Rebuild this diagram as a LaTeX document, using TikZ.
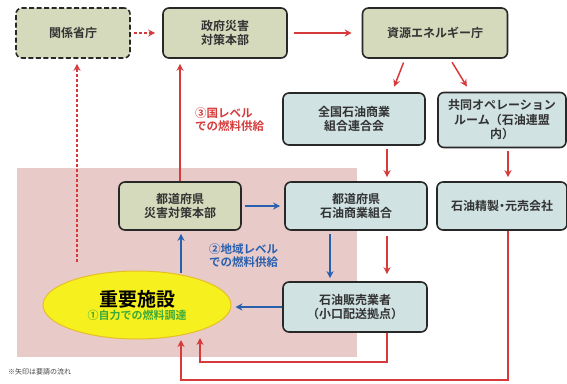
\documentclass[tikz,border=0pt]{standalone}
\usepackage{fontspec}
\setmainfont{Noto Sans CJK JP}[BoldFont={* Bold}]
\usetikzlibrary{arrows.meta,shapes.geometric}
\definecolor{olivefill}{RGB}{214,218,188}
\definecolor{bluefill}{RGB}{208,226,226}
\definecolor{boxline}{RGB}{40,40,40}
\definecolor{pinkbg}{RGB}{232,202,200}
\definecolor{arrred}{RGB}{214,58,58}
\definecolor{arrblue}{RGB}{40,95,175}
\definecolor{txtgreen}{RGB}{60,170,60}
\definecolor{ellfill}{RGB}{246,240,30}
\definecolor{elldraw}{RGB}{230,190,40}
\begin{document}
\begin{tikzpicture}[x=1pt,y=-1pt,
  box/.style={draw=boxline, line width=1.6pt, rounded corners=6pt, align=center,
    font=\bfseries\fontsize{12}{14.5}\selectfont, inner sep=2pt, text=black!80},
  olivebox/.style={box, fill=olivefill},
  bluebox/.style={box, fill=bluefill},
  redarr/.style={draw=arrred, line width=1.5pt, -{Stealth[length=7pt,width=7pt]}},
  bluearr/.style={draw=arrblue, line width=1.4pt, -{Stealth[length=7pt,width=7pt]}},
  lbl/.style={font=\bfseries\fontsize{11.5}{13}\selectfont, align=left, inner sep=0pt}]
\useasboundingbox (0,0) rectangle (567,383);
\fill[pinkbg] (17,168) rectangle (357,357);
% nodes
\node[olivebox, dash pattern=on 5pt off 2.5pt, minimum width=114pt, minimum height=50pt] (kankei) at (73,33) {関係省庁};
\node[olivebox, minimum width=124pt, minimum height=50pt] (seifu) at (225,33) {政府災害\\対策本部};
\node[olivebox, minimum width=145pt, minimum height=50pt] (shigen) at (435,33) {資源エネルギー庁};
\node[bluebox, minimum width=142pt, minimum height=52pt] (zenkoku) at (354,119) {全国石油商業\\組合連合会};
\node[bluebox, minimum width=128pt, minimum height=55pt] (kyodo) at (502,120) {共同オペレーション\\ルーム（石油連盟\\内）};
\node[bluebox, minimum width=142pt, minimum height=48pt] (todo) at (356,206) {都道府県\\石油商業組合};
\node[bluebox, minimum width=130pt, minimum height=48pt] (seisei) at (502,206) {石油精製\kern-3pt・\kern-3pt元売会社};
\node[olivebox, minimum width=122pt, minimum height=48pt] (saigai) at (180,206) {都道府県\\災害対策本部};
\node[bluebox, minimum width=144pt, minimum height=50pt] (hanbai) at (355,307) {石油販売業者\\（小口配送拠点）};
\node[ellipse, fill=ellfill, draw=elldraw, line width=1pt, minimum width=188pt, minimum height=68pt, align=center, inner sep=0pt] (juyo) at (137,305)
  {{\bfseries\fontsize{19}{22}\selectfont 重要施設}\\[1pt]{\color{txtgreen}\bfseries\fontsize{11}{13}\selectfont ①自力での燃料調達}};
% labels
\node[lbl, text=arrred, anchor=west] (lab3) at (195,120) {③国レベル\\での燃料供給};
\node[lbl, text=arrblue, anchor=west] (lab2) at (209,256) {②地域レベル\\での燃料供給};
\node[anchor=west, inner sep=0pt, font=\fontsize{7}{8}\selectfont, text=black!75] (note) at (8,372) {※矢印は要請の流れ};
% reference x positions
\coordinate (xa) at (387,0);
\coordinate (xb) at (508,0);
\coordinate (xc) at (330,0);
\coordinate (xe) at (200,0);
\coordinate (xf) at (181,0);
\coordinate (dstart) at (77,262);
\coordinate (bstart) at (181,273);
\coordinate (l1) at (387,362);
\coordinate (l2) at (508,380);
% arrows
\draw[redarr, dash pattern=on 3pt off 2pt, shorten <=3pt, shorten >=7pt] (kankei.east) -- (seifu.west);
\draw[redarr, shorten <=6pt, shorten >=10pt] (seifu.east) -- (shigen.west);
\draw[redarr, shorten <=4pt, shorten >=6pt] ([xshift=-30pt]shigen.south) -- ([xshift=38pt]zenkoku.north);
\draw[redarr, shorten <=4pt, shorten >=6pt] ([xshift=15pt]shigen.south) -- ([xshift=-32pt]kyodo.north);
\draw[redarr, shorten <=3pt, shorten >=4pt] (zenkoku.south -| xa) -- (todo.north -| xa);
\draw[redarr, shorten <=3pt, shorten >=4pt] (kyodo.south -| xb) -- (seisei.north -| xb);
\draw[redarr, shorten >=5pt] (saigai.north) -- (seifu.south -| saigai.north);
\draw[redarr, dash pattern=on 3pt off 2pt, shorten >=5pt] (dstart) -- (kankei.south -| dstart);
\draw[bluearr, shorten <=3pt, shorten >=4pt] (saigai.east) -- (todo.west);
\draw[bluearr, shorten >=3pt] (bstart) -- (saigai.south -| bstart);
\draw[bluearr, shorten <=3pt, shorten >=3pt] (todo.south -| xc) -- (hanbai.north -| xc);
\draw[redarr, shorten <=5pt, shorten >=7pt] (todo.south -| xa) -- (hanbai.north -| xa);
\draw[bluearr, shorten >=4pt] (hanbai.west) -- (hanbai.west -| juyo.east);
\draw[redarr] (hanbai.south -| l1) -- (l1) -- (l1 -| xe) -- (xe |- 0,338);
\draw[redarr] (seisei.south -| l2) -- (l2) -- (l2 -| xf) -- (xf |- 0,340);
\end{tikzpicture}
\end{document}
